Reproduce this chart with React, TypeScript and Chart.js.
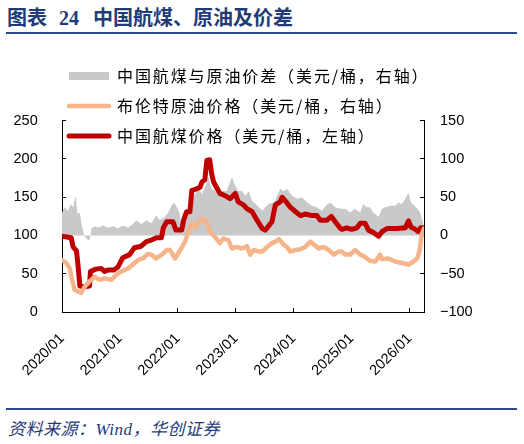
import React, { useEffect, useRef } from 'react';
import { Chart, registerables } from 'chart.js';

Chart.register(...registerables);

// ---- axis ticks (months since 2020/01) ----
const tickMonths = [0, 12, 24, 36, 48, 60, 72];
const tickLabels = ['2020/01', '2021/01', '2022/01', '2023/01', '2024/01', '2025/01', '2026/01'];

// ---- China jet fuel price (USD/bbl, left axis) ----
const jetMonths = [
  0, 1.0, 1.9, 2.3, 3.0, 3.3, 3.7, 4.5, 5.7, 5.9,
  7.0, 8.1, 8.8, 9.5, 10.8, 11.6, 12.6, 14.0, 15.0, 16.4,
  17.5, 18.5, 19.6, 20.6, 21.0, 21.7, 23.0, 23.6, 24.8, 25.2,
  25.8, 26.5, 26.9, 27.5, 28.6, 29.0, 29.6, 30.0, 30.6, 31.0,
  31.4, 32.0, 32.7, 33.8, 34.8, 35.9, 36.5, 37.6, 38.3, 39.4,
  40.4, 41.5, 42.1, 42.5, 43.5, 44.2, 45.2, 45.6, 46.3, 47.3,
  48.4, 49.4, 50.4, 51.8, 52.8, 53.5, 54.9, 55.8, 56.6, 57.7,
  58.0, 59.0, 60.0, 61.1, 61.8, 62.8, 63.5, 64.5, 65.6, 66.3,
  67.3, 69.4, 71.1, 71.8, 72.3, 73.2, 73.8, 74.3, 75.0,
];
const jetPrice = [
  99, 98, 97, 85, 80, 62, 34, 33, 34, 53,
  56, 57, 53, 55, 55, 59, 71, 75, 84, 86,
  92, 94, 97, 97, 110, 118, 118, 107, 107, 120,
  131, 131, 159, 160, 163, 170, 173, 198, 199, 181,
  170, 163, 155, 152, 148, 155, 144, 140, 135, 131,
  120, 109, 107, 110, 118, 140, 144, 150, 145, 137,
  131, 126, 128, 126, 126, 120, 120, 125, 118, 109,
  108, 110, 108, 110, 116, 116, 107, 104, 99, 105,
  109, 109, 110, 119, 111, 108, 105, 110, 110,
];

// ---- Brent crude price (USD/bbl) ----
const brentMonths = [
  0, 0.9, 1.6, 2.1, 2.6, 3.3, 4.0, 4.7, 5.7, 6.8,
  7.8, 8.8, 10.2, 11.3, 12.3, 13.7, 14.7, 15.8, 16.8, 17.8,
  18.5, 19.5, 20.7, 21.7, 22.4, 23.4, 24.5, 25.5, 26.2, 26.9,
  27.6, 28.2, 29.2, 30.0, 30.7, 31.7, 32.7, 33.4, 34.5, 35.2,
  36.2, 37.2, 38.3, 39.0, 39.7, 40.8, 41.5, 42.5, 43.5, 44.2,
  45.0, 45.9, 46.6, 47.3, 48.4, 49.4, 50.4, 51.5, 52.2, 53.2,
  54.2, 55.3, 56.3, 57.3, 58.0, 58.7, 59.7, 60.7, 61.8, 62.8,
  63.8, 64.9, 65.9, 66.3, 67.6, 69.0, 70.4, 71.8, 72.8, 73.6,
  74.1, 74.5, 75.0,
];
const brentPrice = [
  68, 64, 57, 42, 29, 27, 25, 33, 40, 46,
  42, 44, 42, 49, 53, 57, 62, 68, 70, 76,
  75, 70, 75, 81, 81, 70, 81, 92, 105, 116,
  111, 116, 122, 116, 105, 98, 90, 96, 94, 83,
  85, 83, 86, 75, 81, 79, 79, 85, 90, 92,
  95, 88, 85, 79, 81, 82, 85, 92, 88, 83,
  85, 81, 75, 79, 79, 75, 75, 81, 75, 72,
  67, 66, 75, 69, 70, 66, 64, 62, 66, 70,
  81, 101, 109,
];

// ---- Jet fuel vs crude spread (USD/bbl, right axis) ----
const spreadMonths = [
  0, 0.6, 1.2, 1.8, 2.3, 2.8, 3.2, 3.7, 4.1, 4.6,
  5.0, 5.7, 6.1, 6.8, 7.5, 8.5, 9.5, 10.6, 11.6, 12.6,
  13.7, 14.7, 15.4, 16.4, 17.5, 18.5, 19.5, 20.3, 21.3, 22.0,
  22.7, 23.2, 23.8, 24.3, 24.8, 25.5, 26.2, 26.9, 27.6, 28.2,
  29.0, 29.6, 30.3, 31.0, 31.7, 32.4, 33.1, 34.1, 35.2, 35.9,
  36.5, 37.3, 38.0, 38.7, 39.4, 40.1, 40.8, 41.5, 42.1, 42.8,
  43.9, 44.6, 45.2, 45.9, 46.6, 47.7, 48.7, 49.7, 50.8, 51.8,
  52.8, 53.9, 54.6, 55.6, 56.6, 57.7, 58.7, 59.7, 60.7, 61.8,
  62.4, 63.1, 63.8, 64.5, 65.6, 66.3, 66.9, 68.0, 69.0, 69.7,
  70.4, 71.1, 71.8, 72.3, 73.0, 73.6, 74.2, 74.8, 75.0,
];
const spreadValue = [
  30, 37, 32, 41, 37, 52, 28, 30, 13, 0,
  -4, -7, 9, 12, 10, 13, 10, 12, 9, 13,
  10, 15, 20, 15, 20, 16, 26, 20, 24, 30,
  39, 43, 37, 30, 13, 20, 32, 48, 54, 63,
  54, 63, 76, 61, 58, 54, 58, 58, 76, 65,
  58, 58, 52, 58, 45, 41, 37, 32, 37, 41,
  43, 52, 61, 58, 61, 52, 48, 50, 43, 39,
  37, 32, 39, 43, 37, 35, 35, 30, 35, 30,
  41, 37, 37, 30, 24, 35, 37, 39, 39, 43,
  41, 48, 56, 43, 39, 35, 30, 17, 5,
];

const seriesNames = [
  '中国航煤与原油价差（美元/桶，右轴）',
  '布伦特原油价格（美元/桶，右轴）',
  '中国航煤价格（美元/桶，左轴）',
];

// ---- styles ----
const GRAY = '#C9C9C9';
const ORANGE = '#F5B48A';
const RED = '#C00000';
const NAVY = '#1F3B78';
const RULE = '#2A4C8E';
const TICK_FONT = { family: '"Liberation Sans", Arial, sans-serif', size: 14.5 };
const CJK = '"Noto Sans CJK SC", "Noto Sans", sans-serif';

const LEGEND_BAND = 80.7; // chart-area top inside the canvas

const legendPlacer = {
  id: 'legendPlacer',
  beforeLayout(chart: any) {
    const lg = chart.legend;
    if (lg && !lg.__patched) {
      const origFit = lg.fit.bind(lg);
      lg.fit = () => {
        origFit();
        lg.height = LEGEND_BAND;
      };
      const origDraw = lg.draw.bind(lg);
      lg.draw = (...args: any[]) => {
        const c: any = chart.ctx;
        const prev = c.letterSpacing;
        c.letterSpacing = '1.9px';
        origDraw(...args);
        c.letterSpacing = prev || '0px';
      };
      lg.__patched = true;
    }
  },
  afterLayout(chart: any) {
    const lg = chart.legend;
    if (!lg) return;
    lg.left = 55;
    lg.top = 14;
    lg.right = chart.width;
    lg.bottom = 150;
    lg.width = lg.right - lg.left;
    lg.height = lg.bottom - lg.top;
  },
};

function pts(xs: number[], ys: number[]) {
  return xs.map((x, i) => ({ x, y: ys[i] }));
}

export default function App() {
  const ref = useRef<HTMLCanvasElement | null>(null);

  useEffect(() => {
    const canvas = ref.current;
    if (!canvas) return;
    const chart = new Chart(canvas, {
      type: 'line',
      data: {
        datasets: [
          {
            label: seriesNames[0],
            data: pts(spreadMonths, spreadValue),
            yAxisID: 'y1',
            borderColor: 'rgba(0,0,0,0)',
            borderWidth: 0,
            backgroundColor: GRAY,
            fill: 'origin',
            pointRadius: 0,
            tension: 0,
            order: 2,
          },
          {
            label: seriesNames[1],
            data: pts(brentMonths, brentPrice),
            yAxisID: 'y',
            borderColor: ORANGE,
            borderWidth: 4.5,
            borderJoinStyle: 'round',
            borderCapStyle: 'round',
            fill: false,
            pointRadius: 0,
            tension: 0,
            order: 0,
          },
          {
            label: seriesNames[2],
            data: pts(jetMonths, jetPrice),
            yAxisID: 'y',
            borderColor: RED,
            borderWidth: 5,
            borderJoinStyle: 'round',
            borderCapStyle: 'round',
            fill: false,
            pointRadius: 0,
            tension: 0,
            order: 1,
          },
        ],
      },
      options: {
        animation: false,
        responsive: true,
        maintainAspectRatio: false,
        layout: { padding: 0 },
        events: [],
        plugins: {
          tooltip: { enabled: false },
          legend: {
            position: 'top',
            align: 'start',
            labels: {
              usePointStyle: true,
              pointStyleWidth: 40,
              boxWidth: 40,
              boxHeight: 16,
              padding: 14,
              color: '#000',
              font: { family: CJK, size: 16 },
              generateLabels: () => [
                { text: seriesNames[0], fillStyle: GRAY, strokeStyle: GRAY, lineWidth: 8, lineCap: 'butt', pointStyle: 'line', hidden: false, datasetIndex: 0, fontColor: '#000' },
                { text: seriesNames[1], fillStyle: ORANGE, strokeStyle: ORANGE, lineWidth: 4.5, lineCap: 'round', pointStyle: 'line', hidden: false, datasetIndex: 1, fontColor: '#000' },
                { text: seriesNames[2], fillStyle: RED, strokeStyle: RED, lineWidth: 5, lineCap: 'round', pointStyle: 'line', hidden: false, datasetIndex: 2, fontColor: '#000' },
              ],
            },
          },
        },
        scales: {
          x: {
            type: 'linear',
            min: 0,
            max: 75,
            afterBuildTicks: (s: any) => {
              s.ticks = tickMonths.map((v) => ({ value: v }));
            },
            afterFit: (s: any) => {
              s.height = 88;
            },
            ticks: {
              autoSkip: false,
              minRotation: 45,
              maxRotation: 45,
              padding: 22,
              color: '#000',
              font: TICK_FONT,
              callback: (v: any) => {
                const i = tickMonths.indexOf(Number(v));
                return i >= 0 ? tickLabels[i] : '';
              },
            },
            grid: { drawOnChartArea: false, drawTicks: true, tickLength: -4, color: '#000', lineWidth: 1 },
            border: { display: true, color: '#000', width: 1 },
          },
          y: {
            type: 'linear',
            position: 'left',
            min: 0,
            max: 250,
            afterFit: (s: any) => {
              s.width = 62;
            },
            ticks: { stepSize: 50, padding: 28.3, color: '#000', font: TICK_FONT },
            grid: { drawOnChartArea: false, drawTicks: true, tickLength: -4, color: '#000', lineWidth: 1 },
            border: { display: true, color: '#000', width: 1 },
          },
          y1: {
            type: 'linear',
            position: 'right',
            min: -100,
            max: 150,
            afterFit: (s: any) => {
              s.width = 100;
            },
            ticks: {
              stepSize: 50,
              padding: 20,
              color: '#000',
              font: TICK_FONT,
              callback: (v: any) => String(v).replace('-', '\u2212'),
            },
            grid: { drawOnChartArea: false, drawTicks: true, tickLength: -4, color: '#000', lineWidth: 1 },
            border: { display: true, color: '#000', width: 1 },
          },
        },
      },
      plugins: [legendPlacer],
    } as any);
    return () => chart.destroy();
  }, []);

  return (
    <div
      style={{
        position: 'absolute',
        left: 0,
        top: 0,
        width: 524,
        height: 444,
        background: '#fff',
        overflow: 'hidden',
      }}
    >
      <div
        style={{
          position: 'absolute',
          left: 7,
          top: 6,
          height: 22,
          lineHeight: '22px',
          whiteSpace: 'nowrap',
          color: NAVY,
          fontWeight: 700,
          fontSize: 20,
          fontFamily: '"Liberation Serif", "Noto Sans CJK SC", serif',
        }}
      >
        <span style={{ fontFamily: CJK }}>图表</span>
        <span style={{ marginLeft: 12 }}>24</span>
        <span style={{ marginLeft: 14, fontFamily: CJK }}>中国航煤、原油及价差</span>
      </div>
      <div style={{ position: 'absolute', left: 6, top: 32.3, width: 511, height: 2, background: RULE }} />
      <div style={{ position: 'absolute', left: 0, top: 40, width: 524, height: 360 }}>
        <canvas ref={ref} />
      </div>
      <div style={{ position: 'absolute', left: 6, top: 408.3, width: 511, height: 2, background: RULE }} />
      <div
        style={{
          position: 'absolute',
          left: 8,
          top: 420,
          height: 20,
          lineHeight: '20px',
          whiteSpace: 'nowrap',
          color: NAVY,
          fontStyle: 'italic',
          fontSize: 17,
          letterSpacing: '0.5px',
          fontFamily: '"Liberation Serif", "Noto Sans CJK SC", serif',
        }}
      >
        资料来源：Wind，华创证券
      </div>
    </div>
  );
}
